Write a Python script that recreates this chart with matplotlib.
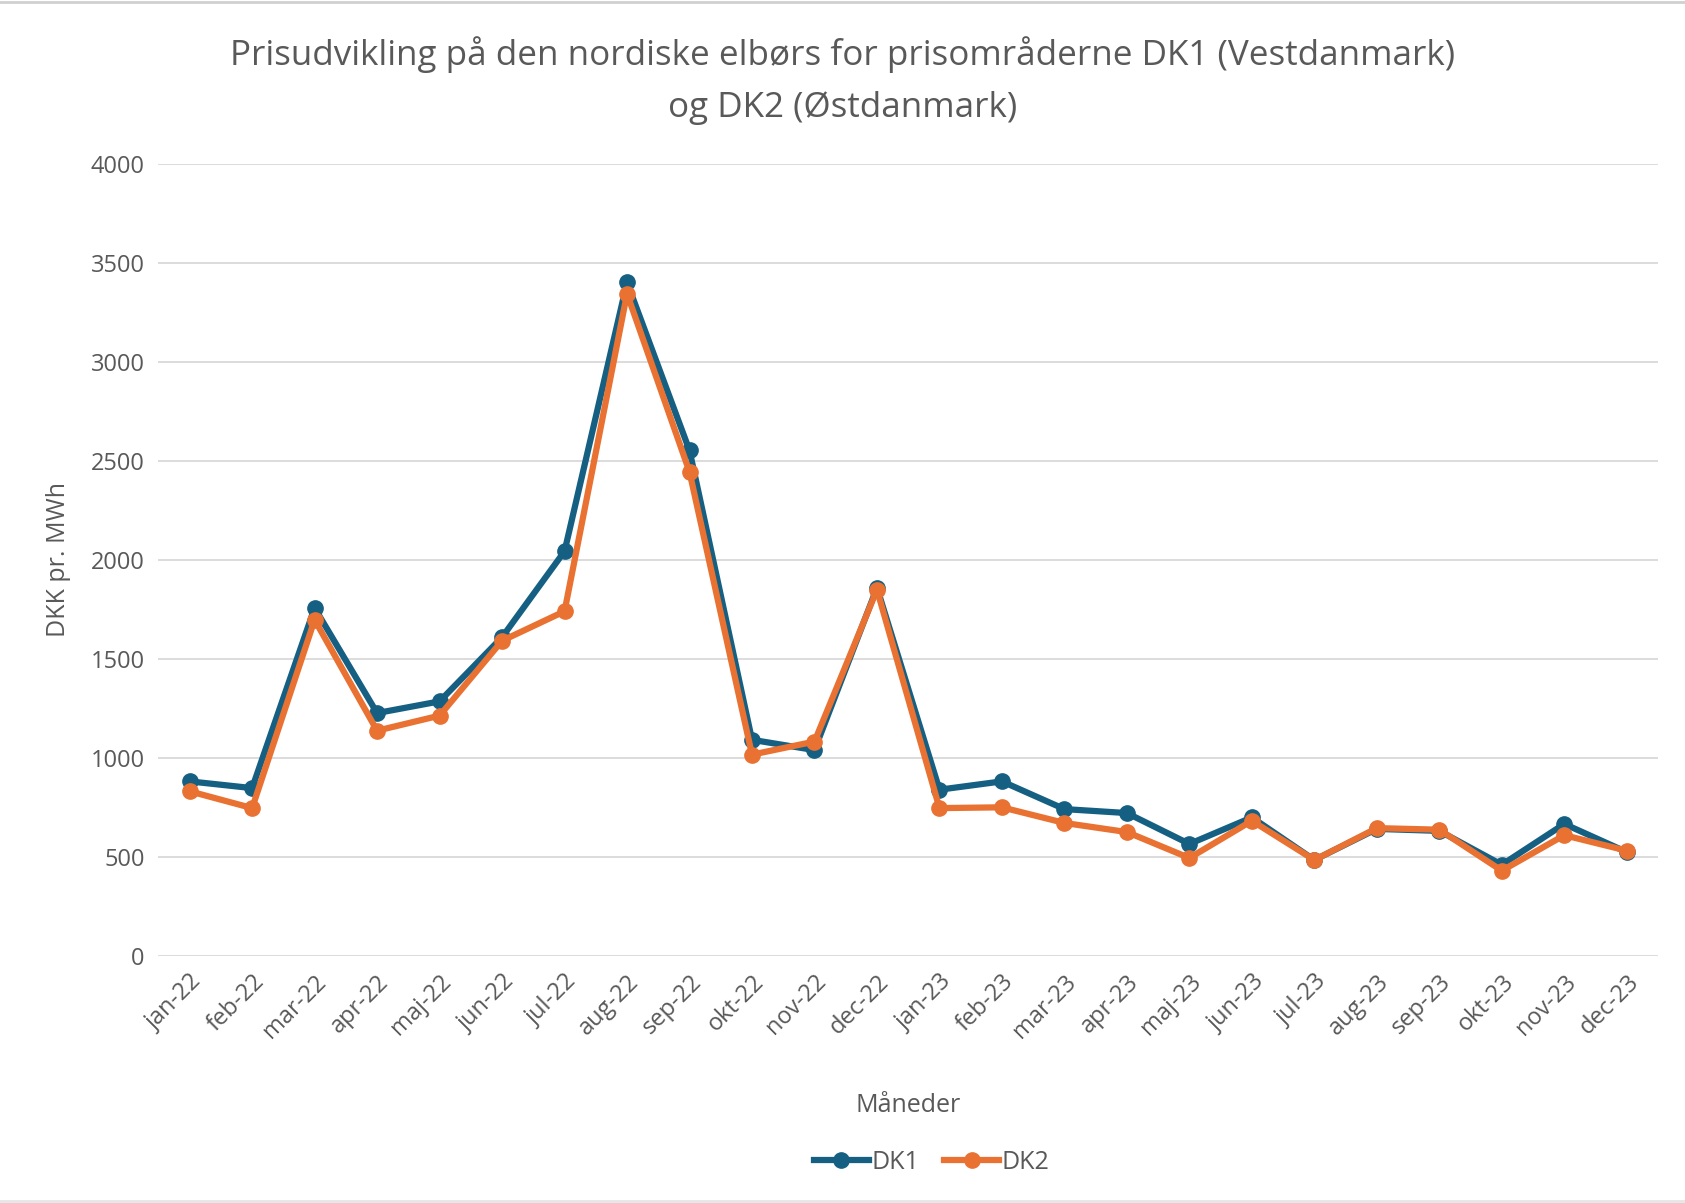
import matplotlib
matplotlib.use("Agg")
import matplotlib.pyplot as plt
from matplotlib.lines import Line2D

# Maanedlige priser (DKK pr. MWh), aflaest fra figuren
maaneder = ["jan-22", "feb-22", "mar-22", "apr-22", "maj-22", "jun-22",
            "jul-22", "aug-22", "sep-22", "okt-22", "nov-22", "dec-22",
            "jan-23", "feb-23", "mar-23", "apr-23", "maj-23", "jun-23",
            "jul-23", "aug-23", "sep-23", "okt-23", "nov-23", "dec-23"]
dk1 = [882, 848, 1758, 1227, 1286, 1610, 2044, 3402, 2553, 1092, 1040, 1860,
       840, 882, 742, 722, 566, 700, 485, 642, 632, 461, 667, 525]
dk2 = [832, 747, 1698, 1138, 1214, 1592, 1741, 3345, 2445, 1017, 1083, 1850,
       747, 751, 672, 626, 495, 683, 485, 646, 638, 431, 610, 532]
yticks = [0, 500, 1000, 1500, 2000, 2500, 3000, 3500, 4000]

blaa = "#156082"
orange = "#E97132"
tekst = "#595959"

plt.rcParams["font.family"] = ["Open Sans", "DejaVu Sans"]

fig = plt.figure(figsize=(16.85, 12.03), dpi=100)
ax = fig.add_axes([0.094, 0.2053, 0.89, 0.6584])

x = list(range(len(maaneder)))
ax.plot(x, dk1, color=blaa, lw=4.5, marker="o", ms=11, label="DK1", zorder=3)
ax.plot(x, dk2, color=orange, lw=4.5, marker="o", ms=11, label="DK2", zorder=4)

ax.set_xlim(-0.5, len(maaneder) - 0.5)
ax.set_ylim(0, 4000)
ax.set_yticks(yticks)
ax.set_yticklabels([str(v) for v in yticks], color=tekst, fontsize=17)
ax.set_xticks(x)
ax.set_xticklabels(maaneder, rotation=45, ha="right", rotation_mode="anchor",
                   color=tekst, fontsize=17)
ax.tick_params(axis="both", length=0, pad=10)
ax.grid(axis="y", color="#d9d9d9", lw=1.3)
ax.set_axisbelow(True)
for s in ax.spines.values():
    s.set_visible(False)

ax.set_ylabel("DKK pr. MWh", color=tekst, fontsize=18, labelpad=14)
ax.set_xlabel("Måneder", color=tekst, fontsize=18, labelpad=36)

fig.suptitle("Prisudvikling på den nordiske elbørs for prisområderne DK1 (Vestdanmark)\nog DK2 (Østdanmark)",
             y=0.970, color=tekst, fontsize=25.2, linespacing=1.68)

handles = [Line2D([], [], color=blaa, lw=4.5, marker="o", ms=11),
           Line2D([], [], color=orange, lw=4.5, marker="o", ms=11)]
fig.legend(handles, ["DK1", "DK2"], loc="center", bbox_to_anchor=(0.553, 0.034),
           ncol=2, frameon=False, fontsize=18, labelcolor=tekst,
           handlelength=2.2, handletextpad=0.1, columnspacing=1.0)

# tynde graa kanter i top og bund som i originalen
fig.add_artist(Line2D([0, 1], [0.998, 0.998], color="#d0d0d0", lw=2))
fig.add_artist(Line2D([0, 1], [0.002, 0.002], color="#e6e6e6", lw=2))

fig.savefig("out.png", dpi=100)
